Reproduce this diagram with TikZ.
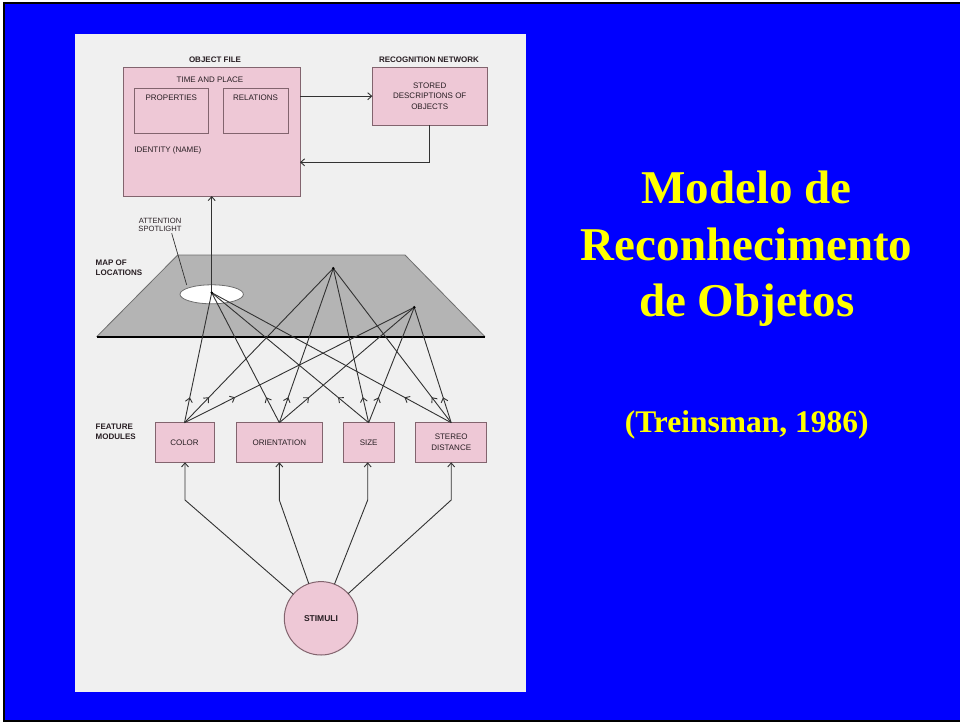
\documentclass[tikz,border=0pt]{standalone}
\usepackage{fontspec}
\setmainfont{Liberation Serif}
\newfontfamily\diagfont{Liberation Sans}
\usetikzlibrary{arrows.meta,decorations.markings,calc,shapes.geometric}
\definecolor{slideblue}{RGB}{0,0,255}
\definecolor{slideyellow}{RGB}{255,255,0}
\definecolor{panel}{RGB}{240,240,240}
\definecolor{pinkfill}{RGB}{238,200,214}
\definecolor{pinkdraw}{RGB}{130,100,110}
\definecolor{mapfill}{RGB}{180,180,180}
\definecolor{mapdraw}{RGB}{110,110,110}
\definecolor{ink}{RGB}{50,50,50}
\definecolor{txt}{RGB}{40,30,35}
\begin{document}
\begin{tikzpicture}[x=1pt,y=-1pt,
 every node/.style={inner sep=0pt,outer sep=0pt},
 lbl/.style={font=\diagfont\fontsize{8}{10.8}\selectfont, text=txt},
 blbl/.style={font=\diagfont\bfseries\fontsize{8}{10}\selectfont, text=txt},
 pinkbox/.style={draw=pinkdraw, fill=pinkfill, line width=1pt, rectangle},
 conn/.style={draw=ink, line width=0.9pt},
 arrowend/.style={-{Straight Barb[length=4pt,width=7pt,line width=0.9pt]}},
 midtip/.style={postaction={decorate},decoration={markings,mark=at position #1 with {\arrow[ink]{Straight Barb[length=4pt,width=7pt,line width=0.9pt]}}}},
 titletext/.style={font=\bfseries\fontsize{47}{56}\selectfont, text=slideyellow, anchor=base},
]
\useasboundingbox (0,0) rectangle (960,723);
\fill[white] (-5,-5) rectangle (970,730);
\fill[slideblue] (3,2) rectangle (970,722);
\draw[black, line width=2.4pt] (970,3.2) -- (4.2,3.2) -- (4.2,720.8) -- (970,720.8);
\fill[panel] (75,34) rectangle (526,692);

% object file
\node[pinkbox, minimum width=177pt, minimum height=129pt] (of) at (211.5,131.5) {};
\node[pinkbox, minimum width=74pt, minimum height=45pt] (props) at (171.3,110.8) {};
\node[pinkbox, minimum width=65.7pt, minimum height=45pt] (rels) at (255.9,110.8) {};
\node[pinkbox, minimum width=114.7pt, minimum height=57.7pt, align=center, lbl] (stored) at (429.7,96.2) {STORED\\DESCRIPTIONS OF\\OBJECTS};
\node[blbl] (oftitle) at (215,60) {OBJECT FILE};
\node[blbl] (rntitle) at (429,60) {RECOGNITION NETWORK};
\node[lbl] (tap) at (210,80) {TIME AND PLACE};
\node[lbl] (propt) at (171.3,97.3) {PROPERTIES};
\node[lbl] (relt) at (255.5,97.3) {RELATIONS};
\node[lbl, anchor=west] (ident) at (134.3,150.7) {IDENTITY (NAME)};

\coordinate (ret) at (429.7,162.3);
\draw[conn, arrowend] (of.east |- stored) -- (stored.west);
\draw[conn, arrowend] (stored.south) -- (ret) -- (of.east |- ret);

% map of locations
\coordinate (m1) at (177.7,255);
\coordinate (m2) at (405,255);
\coordinate (m3) at (485,336.7);
\coordinate (m4) at (96.7,336.7);
\fill[mapfill] (m1) -- (m2) -- (m3) -- (m4) -- cycle;
\draw[mapdraw, line width=0.8pt] (m4) -- (m1) -- (m2) -- (m3);
\draw[black, line width=1.9pt] (m4) -- (m3);
\node[ellipse, draw=mapdraw, fill=white, line width=0.8pt, minimum width=63.4pt, minimum height=19pt] (spot) at (211.7,294.3) {};

\coordinate (A) at (211.7,292.7);
\coordinate (B) at (333.3,268.3);
\coordinate (C) at (414.3,307.3);

\node[lbl, align=center, font=\diagfont\fontsize{7.6}{8.6}\selectfont] (att) at (160,225) {ATTENTION\\SPOTLIGHT};
\coordinate (leadA) at (171.7,233.3);
\coordinate (leadB) at (186.7,285);
\draw[ink, line width=0.7pt] (leadA) -- (leadB);
\node[blbl, align=left, anchor=west] (mapl) at (95.7,267.7) {MAP OF\\LOCATIONS};
\node[blbl, align=left, anchor=west] (featl) at (95.7,431.7) {FEATURE\\MODULES};

% feature modules
\node[pinkbox, minimum width=59pt, minimum height=39.6pt, lbl] (fcol) at (184.5,442.5) {COLOR};
\node[pinkbox, minimum width=86.7pt, minimum height=39.6pt, lbl] (fori) at (279.35,442.5) {ORIENTATION};
\node[pinkbox, minimum width=50.7pt, minimum height=39.6pt, lbl] (fsiz) at (368.65,442.5) {SIZE};
\node[pinkbox, minimum width=71pt, minimum height=39.6pt, lbl, align=center] (fste) at (451.2,442.5) {STEREO\\DISTANCE};

\foreach \m in {fcol,fori,fsiz,fste} {
  \draw[conn, midtip=0.195] (\m.north) -- (A);
  \draw[conn, midtip=0.165] (\m.north) -- (B);
  \draw[conn, midtip=0.22] (\m.north) -- (C);
}
\draw[conn, arrowend] (A) -- (A |- of.south);
\foreach \p in {A,B,C} { \fill[black] (\p) circle (1.4); }

% stimuli
\node[circle, draw=pinkdraw, fill=pinkfill, line width=1pt, minimum size=73.4pt, blbl, font=\diagfont\bfseries\fontsize{8.5}{10}\selectfont] (stim) at (321,618.3) {STIMULI};
\coordinate (bcol) at (185,500);
\coordinate (bori) at (279.3,500);
\coordinate (bsiz) at (367.7,500);
\coordinate (bste) at (451.2,500);
\draw[conn, arrowend] (stim) -- (bcol) -- (bcol |- fcol.south);
\draw[conn, arrowend] (stim) -- (bori) -- (bori |- fori.south);
\draw[conn, arrowend] (stim) -- (bsiz) -- (bsiz |- fsiz.south);
\draw[conn, arrowend] (stim) -- (bste) -- (bste |- fste.south);

% title
\node[titletext] (t1) at (746.7,203.3) {Modelo de};
\node[titletext] (t2) at (746.7,260) {Reconhecimento};
\node[titletext] (t3) at (746.7,316.7) {de Objetos};
\node[titletext, font=\bfseries\fontsize{31.5}{36}\selectfont] (t4) at (746.7,432.3) {(Treinsman, 1986)};
\end{tikzpicture}
\end{document}
